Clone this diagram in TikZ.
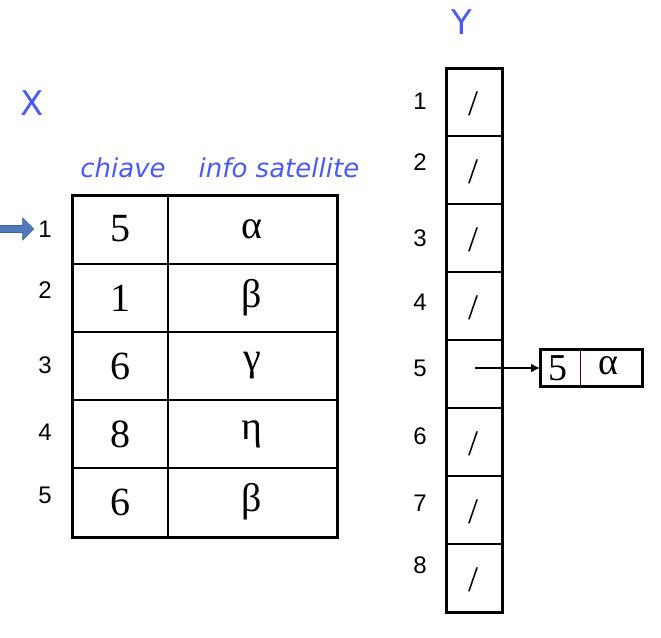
\documentclass[tikz,border=0pt]{standalone}
\usepackage{fontspec}
\setmainfont{Liberation Serif}
\setsansfont{Liberation Sans}
\newfontfamily\hdrfont{DejaVu Sans}
\usetikzlibrary{arrows.meta,shapes.arrows}
\definecolor{tblue}{HTML}{4A5CF0}
\definecolor{arrblue}{HTML}{4F7BBE}
\begin{document}
\begin{tikzpicture}[x=1pt,y=-1pt,
  thickline/.style={line width=3pt},
  thinline/.style={line width=1.4pt},
  big/.style={font=\fontsize{40}{44}\selectfont},
  idx/.style={font=\sffamily\fontsize{24}{26}\selectfont},
  hdr/.style={font=\hdrfont\itshape\fontsize{26}{30}\selectfont, text=tblue},
  title/.style={font=\hdrfont\fontsize{34}{38}\selectfont, text=tblue},
  slash/.style={font=\fontsize{36}{38}\selectfont}]
\useasboundingbox (0,0) rectangle (661,637);
% titles
\node[title] (X) at (32,103) {X};
\node[title] (Y) at (462,22) {Y};
\node[hdr] (h1) at (123,168) {chiave};
\node[hdr] (h2) at (279,168) {info satellite};
% table X
\foreach \y in {264,332,400,468} \draw[thinline] (72,\y) -- (337,\y);
\draw[thinline] (168,195) -- (168,537);
\draw[thickline] (72,195) rectangle (337,537);
\foreach \i/\y/\k/\v/\ly in {1/229/5/α/229, 2/298/1/β/290, 3/366/6/γ/365, 4/434/8/η/432, 5/502/6/β/495} {
  \node[big] (k\i) at (120,\y) {\k};
  \node[big] (v\i) at (252,\y) {\v};
  \node[idx] (xl\i) at (45,\ly) {\i};
}
% blue arrow
\node[single arrow, fill=arrblue, draw=arrblue!80!black, line width=0.6pt, minimum height=34pt, minimum width=22pt, single arrow head extend=5pt, inner sep=2pt] (pt) at (15,229) {};
% array Y
\foreach \y in {136,204,272,340,408,476,544} \draw[thinline] (446,\y) -- (502,\y);
\draw[thickline] (446,68) rectangle (502,612);
\foreach \i/\ly in {1/101,2/162,3/238,4/302,5/368,6/436,7/503,8/565} {
  \node[idx] (yl\i) at (420,\ly) {\i};
}
\foreach \i in {1,2,3,4,6,7,8} {
  \node[slash] (s\i) at (473,{68*\i+36}) {/};
}
\coordinate (c5) at (475,368);
% list node
\draw[thickline] (540,349) rectangle (642,386);
\draw[line width=1pt, black!70!red] (580,349) -- (580,386);
\node[font=\fontsize{38}{40}\selectfont] (l5) at (558,368) {5};
\node[font=\fontsize{38}{40}\selectfont] (la) at (608,366) {α};
\coordinate (lst) at (540,368);
\draw[line width=2.5pt, -{Latex[length=9pt,width=9pt]}] (c5) -- (lst);
\end{tikzpicture}
\end{document}
